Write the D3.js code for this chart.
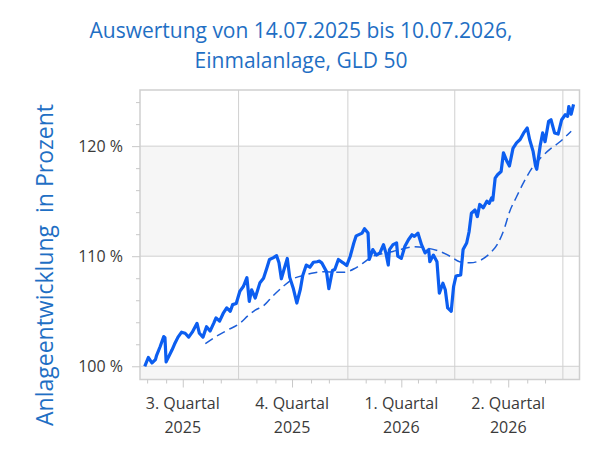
<!DOCTYPE html>
<html><head><meta charset="utf-8">
<script src="https://cdn.jsdelivr.net/npm/d3@7"></script>
<style>body{margin:0;background:#fff}svg text{font-family:"Open Sans","Noto Sans",sans-serif}</style>
</head><body><svg id="c" width="601" height="462"></svg>
<script>
const titleLines = ["Auswertung von 14.07.2025 bis 10.07.2026,", "Einmalanlage, GLD 50"];
const yTitle = "Anlageentwicklung  in Prozent";
const quarterLabels = [["3. Quartal","2025"],["4. Quartal","2025"],["1. Quartal","2026"],["2. Quartal","2026"]];
const quarterStarts = ["2025-10-01","2026-01-01","2026-04-01","2026-07-01"];
const quarterMids = ["2025-08-15","2025-11-15","2026-02-15","2026-05-16"];
const yTickValues = [100,110,120];
const yTickLabels = ["100 %","110 %","120 %"];
const bandRanges = [[98.8,100],[110,120]];

const solidDates = ["2025-07-14","2025-07-17","2025-07-20","2025-07-23","2025-07-24","2025-07-27","2025-07-30","2025-07-31","2025-08-01","2025-08-06","2025-08-08","2025-08-11","2025-08-14","2025-08-17","2025-08-20","2025-08-23","2025-08-27","2025-08-29","2025-09-01","2025-09-04","2025-09-07","2025-09-10","2025-09-12","2025-09-15","2025-09-18","2025-09-21","2025-09-24","2025-09-26","2025-09-29","2025-10-02","2025-10-05","2025-10-08","2025-10-10","2025-10-12","2025-10-15","2025-10-19","2025-10-22","2025-10-25","2025-10-27","2025-10-30","2025-11-02","2025-11-04","2025-11-06","2025-11-08","2025-11-11","2025-11-13","2025-11-16","2025-11-19","2025-11-22","2025-11-24","2025-11-27","2025-11-30","2025-12-03","2025-12-06","2025-12-08","2025-12-10","2025-12-14","2025-12-16","2025-12-19","2025-12-21","2025-12-24","2025-12-28","2025-12-31","2026-01-03","2026-01-06","2026-01-08","2026-01-13","2026-01-15","2026-01-18","2026-01-19","2026-01-21","2026-01-22","2026-01-25","2026-01-28","2026-01-31","2026-02-02","2026-02-04","2026-02-05","2026-02-08","2026-02-11","2026-02-12","2026-02-15","2026-02-18","2026-02-21","2026-02-24","2026-02-26","2026-03-01","2026-03-04","2026-03-07","2026-03-10","2026-03-11","2026-03-14","2026-03-17","2026-03-19","2026-03-22","2026-03-24","2026-03-26","2026-03-29","2026-03-31","2026-04-02","2026-04-06","2026-04-08","2026-04-11","2026-04-13","2026-04-15","2026-04-18","2026-04-20","2026-04-22","2026-04-25","2026-04-28","2026-04-30","2026-05-02","2026-05-03","2026-05-05","2026-05-07","2026-05-10","2026-05-12","2026-05-15","2026-05-17","2026-05-20","2026-05-23","2026-05-26","2026-05-29","2026-06-01","2026-06-03","2026-06-06","2026-06-08","2026-06-09","2026-06-12","2026-06-14","2026-06-16","2026-06-19","2026-06-21","2026-06-24","2026-06-27","2026-06-30","2026-07-03","2026-07-05","2026-07-06","2026-07-08","2026-07-10"];
const solidValues = [100.0,100.8,100.3,100.6,101.0,101.8,102.7,102.6,100.4,101.5,102.0,102.65,103.1,103.0,102.65,103.1,103.9,103.0,102.65,103.6,103.2,103.9,104.4,104.1,104.8,105.3,105.0,105.6,105.7,106.8,107.25,108.05,105.9,106.95,106.2,107.6,108.0,109.0,109.7,109.85,110.05,109.4,107.95,108.7,109.8,108.1,107.1,105.75,107.0,108.25,109.2,109.0,109.45,109.5,109.55,109.4,108.6,107.05,108.7,108.8,109.7,109.4,109.15,110.0,111.2,111.85,112.1,112.5,112.1,109.7,110.3,110.6,110.1,110.3,111.05,110.3,109.2,110.6,111.05,111.2,110.0,109.8,110.9,111.5,111.95,111.8,112.1,111.05,110.3,110.6,109.5,110.1,109.5,106.65,107.55,106.95,105.3,105.0,107.25,108.2,108.3,110.6,111.2,112.2,113.9,114.2,113.6,114.7,114.4,115.0,114.8,115.3,115.1,117.1,117.4,117.7,119.4,118.6,118.2,119.8,120.3,120.6,121.2,121.65,120.6,119.5,118.2,117.9,120.1,121.2,120.4,122.25,122.4,121.2,121.1,122.4,122.85,122.7,123.6,122.9,123.8];

const maDates = ["2025-09-03","2025-09-12","2025-09-21","2025-10-02","2025-10-09","2025-10-15","2025-10-22","2025-10-30","2025-11-08","2025-11-16","2025-11-26","2025-12-04","2025-12-13","2025-12-21","2025-12-29","2026-01-07","2026-01-14","2026-01-22","2026-02-03","2026-02-14","2026-02-25","2026-03-08","2026-03-19","2026-03-28","2026-04-05","2026-04-14","2026-04-22","2026-05-01","2026-05-07","2026-05-13","2026-05-17","2026-05-23","2026-05-29","2026-06-05","2026-06-12","2026-06-20","2026-06-28","2026-07-08"];
const maValues = [102.05,102.7,103.25,103.9,104.6,105.1,105.5,106.4,107.3,107.95,108.3,108.5,108.6,108.55,108.55,108.9,109.4,110.0,110.3,110.6,110.85,110.75,110.45,110.0,109.5,109.4,109.6,110.3,111.1,112.6,114.0,115.4,116.7,118.0,118.9,119.7,120.35,121.35];

const L = 140, R = 579.5, T = 90, B = 379.5;
const blue = "#0c5ef0", textBlue = "#1f6fc4";
const svg = d3.select("#c");
const P = d3.utcParse("%Y-%m-%d");

const x = d3.scaleUtc().domain([P("2025-07-10"), P("2026-07-15")]).range([L, R]);
const y = d3.scaleLinear().domain([98.8, 125.1]).range([B, T]);

svg.selectAll("rect.band").data(bandRanges).join("rect")
  .attr("x", L).attr("width", R - L)
  .attr("y", d => y(d[1])).attr("height", d => y(d[0]) - y(d[1]))
  .attr("fill", "#f6f6f6");

svg.selectAll("line.hg").data(yTickValues).join("line")
  .attr("x1", L).attr("x2", R).attr("y1", d => y(d)).attr("y2", d => y(d))
  .attr("stroke", "#d0d0d0").attr("stroke-width", 1);
svg.selectAll("line.vg").data(quarterStarts.map(P)).join("line")
  .attr("y1", T).attr("y2", B).attr("x1", d => x(d)).attr("x2", d => x(d))
  .attr("stroke", "#d0d0d0").attr("stroke-width", 1);

svg.append("rect").attr("x", L).attr("y", T).attr("width", R - L).attr("height", B - T)
  .attr("fill", "none").attr("stroke", "#cfcfcf").attr("stroke-width", 1.5);

const yAxis = d3.axisLeft(y).tickValues(yTickValues).tickSize(8)
  .tickFormat((d, i) => yTickLabels[i]);
const ya = svg.append("g").attr("transform", `translate(${L},0)`).call(yAxis);
ya.select(".domain").remove();
ya.selectAll(".tick line").attr("stroke", "#c8c8c8");
ya.selectAll(".tick text").attr("fill", "#3a3a3a").attr("font-size", 16)
  .attr("x", -17).style("font-family", '"Open Sans",sans-serif');
const yMinor = d3.range(100, 125, 2).filter(v => !yTickValues.includes(v));
svg.append("g").attr("transform", `translate(${L},0)`)
  .call(d3.axisLeft(y).tickValues(yMinor).tickSize(4).tickFormat(""))
  .call(g => g.select(".domain").remove())
  .selectAll(".tick line").attr("stroke", "#c8c8c8");

const xa = svg.append("g").attr("transform", `translate(0,${B})`)
  .call(d3.axisBottom(x).tickValues(quarterMids.map(P)).tickSize(8).tickFormat(""));
xa.select(".domain").remove();
xa.selectAll(".tick line").attr("stroke", "#c8c8c8");
const xMinor = d3.utcDays(P("2025-07-10"), P("2026-07-15")).filter(d => {
  const day = d.getUTCDate();
  return (day === 1 && d.getUTCMonth() % 3 !== 0) || (day === 16 && ![7,10,1,4].includes(d.getUTCMonth()));
});
svg.append("g").attr("transform", `translate(0,${B})`)
  .call(d3.axisBottom(x).tickValues(xMinor).tickSize(4).tickFormat(""))
  .call(g => g.select(".domain").remove())
  .selectAll(".tick line").attr("stroke", "#c8c8c8");

const ql = svg.selectAll("text.ql").data(quarterLabels).join("text")
  .attr("text-anchor", "middle").attr("fill", "#3a3a3a").attr("font-size", 16)
  .attr("transform", (d, i) => `translate(${x(P(quarterMids[i]))},0)`);
ql.append("tspan").attr("x", 0).attr("y", 409).text(d => d[0]);
ql.append("tspan").attr("x", 0).attr("y", 433).text(d => d[1]);

const solid = solidDates.map((d, i) => ({d: P(d), v: solidValues[i]}));
const ma = maDates.map((d, i) => ({d: P(d), v: maValues[i]}));
const line = d3.line().x(p => x(p.d)).y(p => y(p.v));
const lineC = d3.line().x(p => x(p.d)).y(p => y(p.v)).curve(d3.curveMonotoneX);
svg.append("path").datum(ma).attr("d", lineC).attr("fill", "none")
  .attr("stroke", "#1d5ed8").attr("stroke-width", 1.5).attr("stroke-dasharray", "9,5");
svg.append("path").datum(solid).attr("d", line).attr("fill", "none")
  .attr("stroke", blue).attr("stroke-width", 3.2).attr("stroke-linejoin", "round");

svg.selectAll("text.t").data(titleLines).join("text")
  .attr("x", 301).attr("y", (d, i) => 38 + i * 30)
  .attr("text-anchor", "middle").attr("fill", textBlue).attr("font-size", 21)
  .text(d => d);
svg.append("text").attr("transform", `translate(53,265) rotate(-90)`)
  .attr("text-anchor", "middle").attr("fill", textBlue).attr("font-size", 23)
  .style("white-space", "pre").text(yTitle);
</script></body></html>
